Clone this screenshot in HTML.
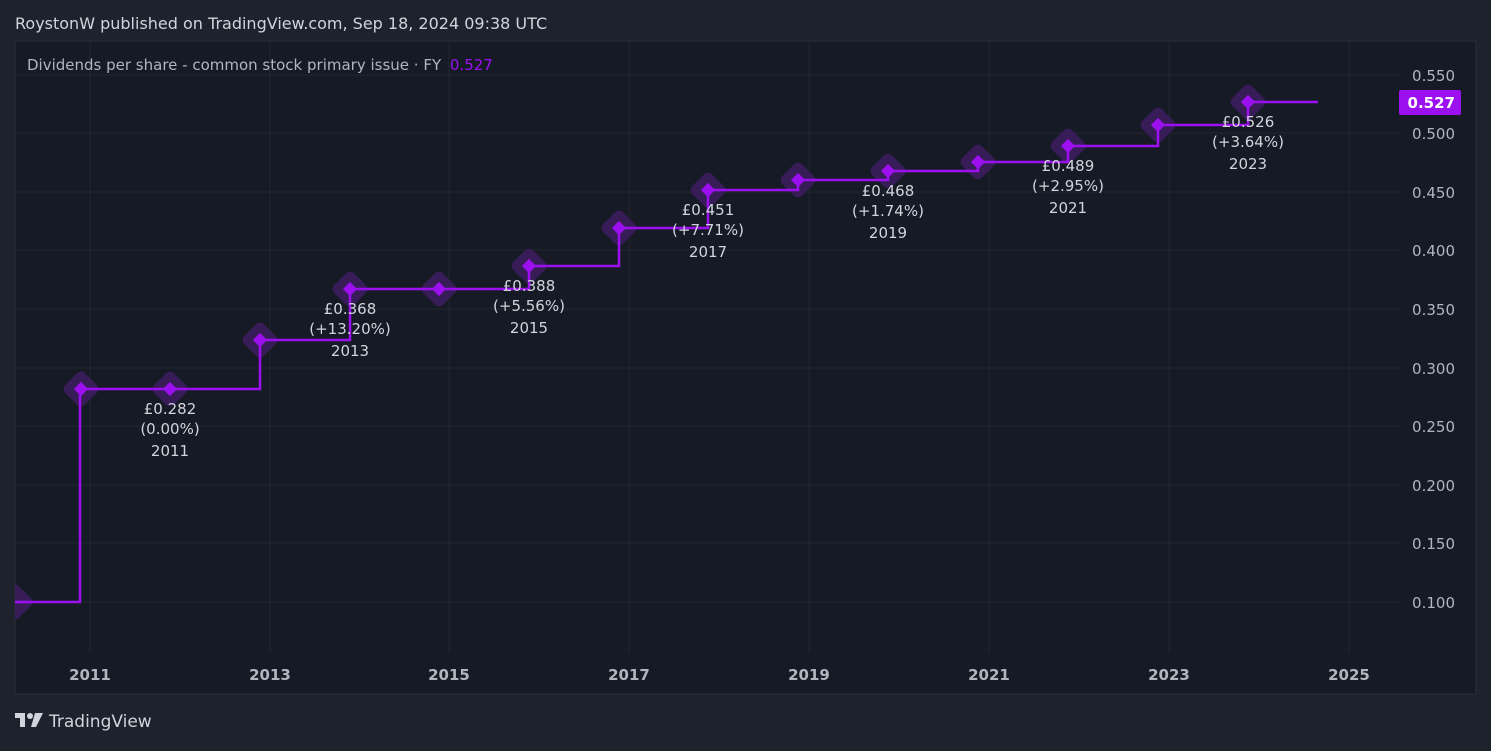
<!DOCTYPE html>
<html><head><meta charset="utf-8"><style>
body{margin:0;background:#1e222d;width:1491px;height:747px;overflow:hidden;font-family:"DejaVu Sans",sans-serif}
</style></head><body>
<svg width="1491" height="747" xmlns="http://www.w3.org/2000/svg" font-family="DejaVu Sans, Liberation Sans, sans-serif">
<rect width="1491" height="747" fill="#1e222d"/>
<text x="15" y="29" fill="#d1d4dc" font-size="16">RoystonW published on TradingView.com, Sep 18, 2024 09:38 UTC</text>
<rect x="15" y="41" width="1461" height="653" fill="#161a25" stroke="#2a2e39"/>
<g stroke="#22262f" stroke-width="1">
<line x1="15" x2="1400" y1="75" y2="75"/><line x1="15" x2="1400" y1="133" y2="133"/><line x1="15" x2="1400" y1="192" y2="192"/><line x1="15" x2="1400" y1="250" y2="250"/><line x1="15" x2="1400" y1="309" y2="309"/><line x1="15" x2="1400" y1="368" y2="368"/><line x1="15" x2="1400" y1="426" y2="426"/><line x1="15" x2="1400" y1="485" y2="485"/><line x1="15" x2="1400" y1="543" y2="543"/><line x1="15" x2="1400" y1="602" y2="602"/>
<line x1="90" x2="90" y1="41" y2="652"/><line x1="270" x2="270" y1="41" y2="652"/><line x1="449" x2="449" y1="41" y2="652"/><line x1="629" x2="629" y1="41" y2="652"/><line x1="809" x2="809" y1="41" y2="652"/><line x1="989" x2="989" y1="41" y2="652"/><line x1="1169" x2="1169" y1="41" y2="652"/><line x1="1349" x2="1349" y1="41" y2="652"/>
</g>
<text x="27" y="70" fill="#b2b5be" font-size="15">Dividends per share - common stock primary issue · FY <tspan fill="#9c10f0" dx="4">0.527</tspan></text>
<g fill="#b2b5be" font-size="15" text-anchor="end">
<text x="1455" y="81">0.550</text><text x="1455" y="139">0.500</text><text x="1455" y="198">0.450</text><text x="1455" y="256">0.400</text><text x="1455" y="315">0.350</text><text x="1455" y="374">0.300</text><text x="1455" y="432">0.250</text><text x="1455" y="491">0.200</text><text x="1455" y="549">0.150</text><text x="1455" y="608">0.100</text>
</g>
<rect x="1399" y="90" width="62" height="25" rx="2" fill="#9c10f0"/>
<text x="1455" y="108" fill="#fff" font-size="15" font-weight="bold" text-anchor="end">0.527</text>
<g fill="#b2b5be" font-size="15" font-weight="bold" text-anchor="middle">
<text x="90" y="680">2011</text><text x="270" y="680">2013</text><text x="449" y="680">2015</text><text x="629" y="680">2017</text><text x="809" y="680">2019</text><text x="989" y="680">2021</text><text x="1169" y="680">2023</text><text x="1349" y="680">2025</text>
</g>
<clipPath id="c"><rect x="15" y="41" width="1385" height="611"/></clipPath>
<g clip-path="url(#c)">
<g fill="#371c58">
<rect x="1" y="588" width="28" height="28" rx="6" transform="rotate(45 15 602)"/>
<rect x="67" y="375" width="28" height="28" rx="6" transform="rotate(45 81 389)"/>
<rect x="156" y="375" width="28" height="28" rx="6" transform="rotate(45 170 389)"/>
<rect x="246" y="326" width="28" height="28" rx="6" transform="rotate(45 260 340)"/>
<rect x="336" y="275" width="28" height="28" rx="6" transform="rotate(45 350 289)"/>
<rect x="425" y="275" width="28" height="28" rx="6" transform="rotate(45 439 289)"/>
<rect x="515" y="252" width="28" height="28" rx="6" transform="rotate(45 529 266)"/>
<rect x="605" y="214" width="28" height="28" rx="6" transform="rotate(45 619 228)"/>
<rect x="694" y="176" width="28" height="28" rx="6" transform="rotate(45 708 190)"/>
<rect x="784" y="166" width="28" height="28" rx="6" transform="rotate(45 798 180)"/>
<rect x="874" y="157" width="28" height="28" rx="6" transform="rotate(45 888 171)"/>
<rect x="964" y="148" width="28" height="28" rx="6" transform="rotate(45 978 162)"/>
<rect x="1054" y="132" width="28" height="28" rx="6" transform="rotate(45 1068 146)"/>
<rect x="1144" y="111" width="28" height="28" rx="6" transform="rotate(45 1158 125)"/>
<rect x="1234" y="88" width="28" height="28" rx="6" transform="rotate(45 1248 102)"/>
</g>
<path d="M15 602H80V389H260V340H350V289H529V266H619V228H708V190H798V180H888V171H978V162H1068V146H1158V125H1248V102H1318" fill="none" stroke="#9c10f0" stroke-width="2.5"/>
<g fill="#9c10f0">
<rect x="76" y="384" width="10" height="10" transform="rotate(45 81 389)"/>
<rect x="165" y="384" width="10" height="10" transform="rotate(45 170 389)"/>
<rect x="255" y="335" width="10" height="10" transform="rotate(45 260 340)"/>
<rect x="345" y="284" width="10" height="10" transform="rotate(45 350 289)"/>
<rect x="434" y="284" width="10" height="10" transform="rotate(45 439 289)"/>
<rect x="524" y="261" width="10" height="10" transform="rotate(45 529 266)"/>
<rect x="614" y="223" width="10" height="10" transform="rotate(45 619 228)"/>
<rect x="703" y="185" width="10" height="10" transform="rotate(45 708 190)"/>
<rect x="793" y="175" width="10" height="10" transform="rotate(45 798 180)"/>
<rect x="883" y="166" width="10" height="10" transform="rotate(45 888 171)"/>
<rect x="973" y="157" width="10" height="10" transform="rotate(45 978 162)"/>
<rect x="1063" y="141" width="10" height="10" transform="rotate(45 1068 146)"/>
<rect x="1153" y="120" width="10" height="10" transform="rotate(45 1158 125)"/>
<rect x="1243" y="97" width="10" height="10" transform="rotate(45 1248 102)"/>
</g>
<g fill="#d1d4dc" font-size="15" text-anchor="middle">
<text x="170" y="414">£0.282</text><text x="170" y="434">(0.00%)</text><text x="170" y="456">2011</text>
<text x="350" y="314">£0.368</text><text x="350" y="334">(+13.20%)</text><text x="350" y="356">2013</text>
<text x="529" y="291">£0.388</text><text x="529" y="311">(+5.56%)</text><text x="529" y="333">2015</text>
<text x="708" y="215">£0.451</text><text x="708" y="235">(+7.71%)</text><text x="708" y="257">2017</text>
<text x="888" y="196">£0.468</text><text x="888" y="216">(+1.74%)</text><text x="888" y="238">2019</text>
<text x="1068" y="171">£0.489</text><text x="1068" y="191">(+2.95%)</text><text x="1068" y="213">2021</text>
<text x="1248" y="127">£0.526</text><text x="1248" y="147">(+3.64%)</text><text x="1248" y="169">2023</text>
</g>
</g>
<g fill="#d1d4dc">
<path d="M15 713h10v14h-5v-9h-5z"/><circle cx="30" cy="716" r="3"/><path d="M35 713h8l-7 14h-5z"/>
</g>
<text x="49" y="727" fill="#d1d4dc" font-size="17">TradingView</text>
</svg>
</body></html>
